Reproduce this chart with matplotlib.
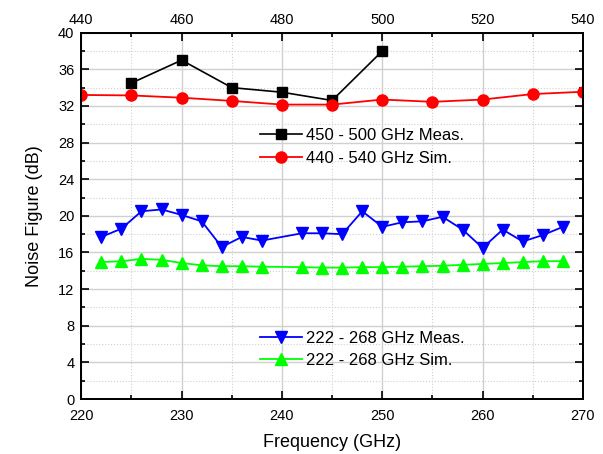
import matplotlib
matplotlib.use("Agg")
import matplotlib.pyplot as plt
from matplotlib.ticker import MultipleLocator

plt.rcParams['font.family'] = ['Liberation Sans', 'DejaVu Sans']

# Top-axis series (440-540 GHz)
meas_hi_f = [450, 460, 470, 480, 490, 500]
meas_hi_nf = [34.5, 37.0, 34.0, 33.5, 32.6, 38.0]
sim_hi_f = [440, 450, 460, 470, 480, 490, 500, 510, 520, 530, 540]
sim_hi_nf = [33.2, 33.15, 32.9, 32.55, 32.15, 32.15, 32.7, 32.45, 32.7, 33.3, 33.55]

# Bottom-axis series (220-270 GHz)
lo_f = [222, 224, 226, 228, 230, 232, 234, 236, 238, 242, 244, 246,
        248, 250, 252, 254, 256, 258, 260, 262, 264, 266, 268]
meas_lo_nf = [17.7, 18.6, 20.5, 20.7, 20.1, 19.4, 16.6, 17.7, 17.3, 18.1, 18.1, 18.0,
              20.5, 18.8, 19.3, 19.4, 19.9, 18.5, 16.5, 18.5, 17.2, 17.9, 18.8]
sim_lo_nf = [14.95, 15.05, 15.3, 15.2, 14.85, 14.6, 14.5, 14.5, 14.45, 14.4, 14.35, 14.35,
             14.4, 14.4, 14.45, 14.5, 14.55, 14.65, 14.75, 14.85, 14.95, 15.05, 15.05]

fig = plt.figure(figsize=(6.03, 4.54), dpi=100)
ax = fig.add_axes([0.1348, 0.1211, 0.8320, 0.8069])
ax2 = ax.twiny()

gridc = '#d0d0d0'
ax.set_xlim(220, 270)
ax.set_ylim(0, 40)
ax.xaxis.set_major_locator(MultipleLocator(10))
ax.xaxis.set_minor_locator(MultipleLocator(5))
ax.yaxis.set_major_locator(MultipleLocator(4))
ax.yaxis.set_minor_locator(MultipleLocator(2))
ax.grid(True, which='major', color=gridc, lw=1.0, ls='-')
ax.grid(True, which='minor', color=gridc, lw=0.8, ls=':')
ax.set_axisbelow(True)

ax2.set_xlim(440, 540)
ax2.xaxis.set_major_locator(MultipleLocator(20))
ax2.xaxis.set_minor_locator(MultipleLocator(10))

for a in (ax, ax2):
    for s in a.spines.values():
        s.set_linewidth(1.3)
ax.tick_params(which='both', direction='in', top=False, right=True, labelsize=10.5, width=1.2)
ax.tick_params(axis='x', which='major', pad=7)
ax.tick_params(axis='y', which='major', pad=5)
ax.tick_params(which='major', length=6)
ax.tick_params(which='minor', length=3)
ax2.tick_params(which='both', direction='in', labelsize=10.5, width=1.2)
ax2.tick_params(which='major', length=6, pad=4)
ax2.tick_params(which='minor', length=3)

l3, = ax.plot(lo_f, meas_lo_nf, color='#0000ff', marker='v', markersize=8, lw=1.3)
l4, = ax.plot(lo_f, sim_lo_nf, color='#00ff00', marker='^', markersize=8, lw=1.3)
l1, = ax2.plot(meas_hi_f, meas_hi_nf, color='black', marker='s', markersize=6.5, lw=1.2)
l2, = ax2.plot(sim_hi_f, sim_hi_nf, color='#ff0000', marker='o', markersize=8, lw=1.3)

ax.set_xlabel('Frequency (GHz)', fontsize=13, labelpad=8)
ax.set_ylabel('Noise Figure (dB)', fontsize=13, labelpad=11)

common = dict(loc='center left', frameon=False, fontsize=12, handlelength=2.5,
              handletextpad=0.25, labelspacing=0.45, borderaxespad=0, borderpad=0)
leg1 = ax2.legend([l1, l2], ['450 - 500 GHz Meas.', '440 - 540 GHz Sim.'],
                  bbox_to_anchor=(0.356, 0.688), **common)
leg2 = ax2.legend([l3, l4], ['222 - 268 GHz Meas.', '222 - 268 GHz Sim.'],
                  bbox_to_anchor=(0.356, 0.135), **common)
ax2.add_artist(leg1)

fig.savefig('out.png', dpi=100)
